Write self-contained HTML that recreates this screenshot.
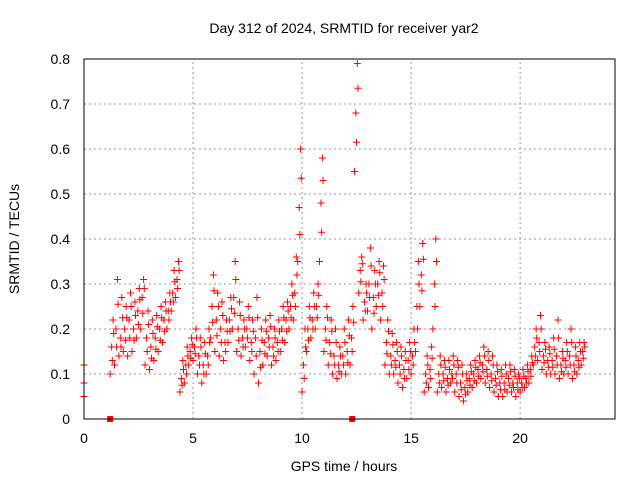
<!DOCTYPE html>
<html><head><meta charset="utf-8"><style>
body{margin:0;background:#fff}
svg{font-family:"Liberation Sans",sans-serif;font-size:14px}
</style></head><body>
<svg id="c" width="640" height="480">
<text x="344" y="33" text-anchor="middle">Day 312 of 2024, SRMTID for receiver yar2</text>
<text x="344" y="471" text-anchor="middle">GPS time / hours</text>
<text transform="translate(19,239) rotate(-90)" text-anchor="middle">SRMTID / TECUs</text>
<g id="grid"></g><g id="ticks"></g><g id="marks"></g>
<rect x="84" y="59" width="531" height="360" fill="none" stroke="#000" stroke-width="1"/>
</svg>
<script>
const xTicks=[0,5,10,15,20];
const yTicks=[0,0.1,0.2,0.3,0.4,0.5,0.6,0.7,0.8];
const yTickLabels=["0","0.1","0.2","0.3","0.4","0.5","0.6","0.7","0.8"];
const tStart=1.2, tStep=0.2;
const loVals=[.10,.12,.14,.15,.14,.15,.18,.2,.12,.11,.13,.15,.17,.2,.24,.27,.06,.08,.12,.13,.1,.08,.1,.18,.15,.14,.13,.17,.2,.15,.14,.16,.13,.1,.08,.12,.14,.12,.13,.15,.17,.2,.22,.35,.06,.15,.18,.2,.35,.15,.12,.1,.09,.1,.1,.12,.55,.28,.22,.24,.2,.25,.22,.12,.1,.1,.08,.07,.09,.1,.15,.25,.06,.07,.2,.06,.07,.06,.08,.06,.05,.04,.06,.07,.08,.09,.08,.07,.06,.05,.05,.06,.06,.05,.06,.07,.08,.12,.13,.11,.1,.1,.1,.09,.1,.1,.09,.1,.12];
const midVals=[.16,.2,.18,.2,.22,.2,.24,.27,.18,.16,.18,.2,.22,.24,.28,.31,.09,.12,.15,.16,.14,.12,.14,.25,.22,.2,.17,.22,.27,.2,.18,.2,.17,.18,.15,.17,.18,.16,.17,.2,.22,.25,.28,.47,.12,.2,.22,.25,.48,.2,.17,.14,.12,.14,.15,.18,.68,.33,.26,.3,.27,.3,.28,.17,.14,.13,.12,.11,.13,.14,.25,.32,.1,.11,.3,.1,.1,.09,.1,.1,.08,.07,.09,.1,.11,.12,.11,.1,.09,.08,.08,.09,.08,.08,.08,.09,.11,.16,.17,.14,.13,.13,.14,.12,.13,.14,.12,.13,.15];
const hiVals=[.22,.31,.27,.25,.28,.26,.29,.31,.24,.22,.23,.25,.26,.28,.33,.35,.13,.16,.18,.2,.18,.17,.2,.32,.28,.26,.22,.27,.35,.26,.22,.25,.22,.27,.2,.22,.23,.2,.22,.25,.26,.3,.36,.6,.2,.25,.28,.3,.58,.25,.22,.2,.16,.2,.22,.25,.79,.36,.3,.38,.33,.35,.34,.22,.19,.17,.16,.15,.17,.2,.35,.39,.14,.16,.4,.14,.13,.13,.14,.13,.12,.1,.12,.13,.14,.16,.15,.14,.12,.11,.12,.12,.11,.1,.11,.12,.14,.2,.23,.17,.16,.18,.22,.15,.17,.2,.16,.17,.17];
const extraT=[0,0,0];
const extraV=[0.12,0.08,0.05];
const zeroT=[1.2,12.3];
const X0=84,X1=615,XMAX=24.35,Y0=419,Y1=59,YMAX=0.8;
const xs=t=>X0+t/XMAX*(X1-X0);
const ys=v=>Y0-v/YMAX*(Y0-Y1);
const NS="http://www.w3.org/2000/svg";
function mk(tag,attrs,parent){const e=document.createElementNS(NS,tag);for(const k in attrs)e.setAttribute(k,attrs[k]);document.getElementById(parent).appendChild(e);return e;}
xTicks.forEach(t=>{const x=xs(t);
 if(t>0){const g=mk('line',{x1:x,y1:Y0,x2:x,y2:Y1,stroke:'#999','stroke-dasharray':'2,3'},'grid');
 
 }
 const l=mk('text',{x:x,y:Y0+24,'text-anchor':'middle'},'ticks');l.textContent=t;
 
 });
yTicks.forEach((v,i)=>{const y=ys(v);
 if(v>0&&v<YMAX){const g=mk('line',{x1:X0,y1:y,x2:X1,y2:y,stroke:'#999','stroke-dasharray':'2,3'},'grid');
 
 }
 const l=mk('text',{x:X0-14,y:y+5,'text-anchor':'end'},'ticks');l.textContent=yTickLabels[i];
 
 });
function plus(t,v,col){const x=xs(t),y=ys(v);
 const p=mk('path',{d:`M${x-3.5},${y}H${x+3.5}M${x},${y-3.5}V${y+3.5}`,stroke:col,'stroke-width':1,fill:'none'},'marks');
 
 }
[loVals,midVals,hiVals].forEach((arr,k)=>{arr.forEach((v,i)=>{const t=tStart+i*tStep+k*tStep/3;plus(t,v,'#f00');if(k===1)plus(t+0.03,(v+loVals[i])/2,'#f00');if(k===2)plus(t+0.03,(v+midVals[i])/2,'#f00');});});
extraT.forEach((t,i)=>plus(t,extraV[i],'#f00'));
zeroT.forEach(t=>{const r=mk('rect',{x:xs(t)-3,y:Y0-3,width:6,height:6,fill:'#f00'},'marks');
 
 });
</script>
</body></html>
